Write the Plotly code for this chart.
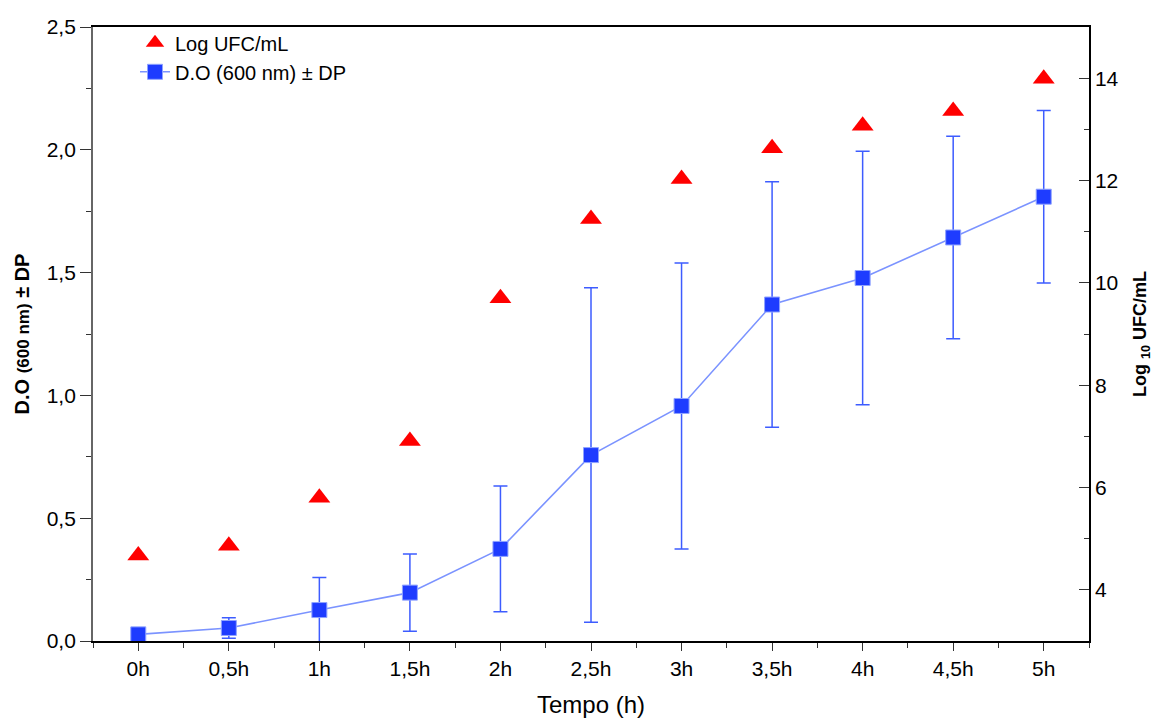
import plotly.graph_objects as go

# ---- data ----
tempo_labels = ["0h", "0,5h", "1h", "1,5h", "2h", "2,5h", "3h", "3,5h", "4h", "4,5h", "5h"]
x_pos = list(range(len(tempo_labels)))
log_ufc = [4.67, 4.86, 5.80, 6.91, 9.70, 11.25, 12.03, 12.63, 13.07, 13.36, 13.99]
do_600 = [0.027, 0.053, 0.126, 0.197, 0.375, 0.757, 0.957, 1.370, 1.478, 1.643, 1.809]
do_dp = [0.005, 0.042, 0.133, 0.157, 0.256, 0.681, 0.582, 0.500, 0.516, 0.412, 0.351]

left_ticks = [0, 0.5, 1.0, 1.5, 2.0, 2.5]
right_ticks = [4, 6, 8, 10, 12, 14]

FONT = "Liberation Sans, Arial, sans-serif"

fig = go.Figure()

fig.add_trace(go.Scatter(
    x=x_pos, y=log_ufc, yaxis="y2", mode="markers", name="Log UFC/mL",
    marker=dict(symbol="triangle-up", size=19, color="#FF0000",
                line=dict(width=0)),
))

fig.add_trace(go.Scatter(
    x=x_pos, y=do_600, mode="lines+markers", name="D.O (600 nm) \u00b1 DP",
    line=dict(color="#7B93FF", width=1.6),
    marker=dict(symbol="square", size=15, color="#1E3CFF",
                line=dict(color="#8FA3FF", width=1)),
    error_y=dict(type="data", array=do_dp, visible=True, color="#3D5CFF",
                 thickness=1.5, width=7),
))

# the page body adds an 8px offset, so the figure is 8px smaller on each axis
fig.update_layout(
    width=1152, height=712,
    margin=dict(l=85, r=71, t=19, b=79, autoexpand=False),
    paper_bgcolor="white", plot_bgcolor="white",
    separators=",.",
    font=dict(family=FONT, size=21, color="black"),
    showlegend=True,
    legend=dict(x=42 / 996, y=1.006, xanchor="left", yanchor="top",
                bgcolor="rgba(0,0,0,0)", font=dict(size=20, family=FONT),
                tracegroupgap=0),
    xaxis=dict(
        range=[-0.5, 10.5], tickmode="array", tickvals=x_pos, ticktext=tempo_labels,
        showline=True, linecolor="black", linewidth=1.5, mirror=True,
        ticks="outside", ticklen=8, tickwidth=1.3, tickcolor="#333",
        minor=dict(tickmode="array", tickvals=[v - 0.5 for v in x_pos] + [10.5],
                   ticks="outside", ticklen=5, tickwidth=1.3, tickcolor="#333"),
        showgrid=False, zeroline=False, automargin=False,
        tickfont=dict(size=21, family=FONT),
        title=dict(text="Tempo (h)", font=dict(size=24, family=FONT), standoff=17),
    ),
    yaxis=dict(
        range=[0, 2.5], tickmode="array", tickvals=left_ticks, tickformat=".1f",
        showline=True, linecolor="#666", linewidth=1.8,
        ticks="outside", ticklen=11, tickwidth=1.3, tickcolor="#333",
        minor=dict(dtick=0.25, ticks="outside", ticklen=5, tickwidth=1.3, tickcolor="#333"),
        showgrid=False, zeroline=False, automargin=False,
        tickfont=dict(size=21, family=FONT),
        title=dict(text="<b>D.O <span style='font-size:17px'>(600 nm)</span> \u00b1 DP</b>",
                   font=dict(size=20, family=FONT), standoff=12),
    ),
    yaxis2=dict(
        range=[3, 15], overlaying="y", side="right", anchor="x",
        tickmode="array", tickvals=right_ticks,
        showline=True, linecolor="black", linewidth=1.5,
        ticks="inside", ticklen=10, tickwidth=1.3, tickcolor="#333",
        minor=dict(dtick=1, ticks="inside", ticklen=5, tickwidth=1.3, tickcolor="#333"),
        showgrid=False, zeroline=False, automargin=False,
        tickfont=dict(size=21, family=FONT),
        title=dict(text="<b>Log <sub>10</sub> UFC/mL</b>",
                   font=dict(size=18, family=FONT), standoff=16),
    ),
)

fig.write_html("out.html")
